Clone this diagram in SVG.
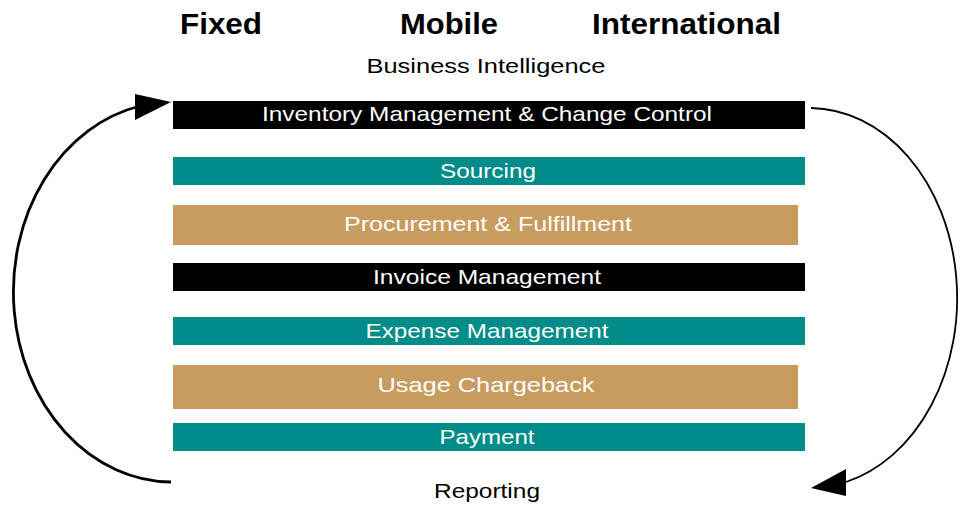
<svg xmlns="http://www.w3.org/2000/svg" width="961" height="505" viewBox="0 0 961 505">
<style>
.hdr{font-family:"Liberation Sans",Arial,sans-serif;font-weight:bold;font-size:30px;fill:#000}
.lbl{font-family:"Liberation Sans",Arial,sans-serif;font-size:21px;fill:#fff;text-anchor:middle}
.blk{fill:#000}
.teal{fill:#008C88}
.tan{fill:#C89B5F}
.plain{font-family:"Liberation Sans",Arial,sans-serif;font-size:21px;fill:#000;text-anchor:middle}
.arc{fill:none;stroke:#000}
</style>
<rect width="961" height="505" fill="#fff"/>
<g id="headers">
<text class="hdr" x="180" y="34" textLength="82" lengthAdjust="spacingAndGlyphs">Fixed</text>
<text class="hdr" x="400" y="34" textLength="98" lengthAdjust="spacingAndGlyphs">Mobile</text>
<text class="hdr" x="592" y="34" textLength="189" lengthAdjust="spacingAndGlyphs">International</text>
</g>
<g id="bi"><text class="plain" x="486" y="73" textLength="239" lengthAdjust="spacingAndGlyphs">Business  Intelligence</text></g>
<g id="inventory"><rect class="blk" x="173" y="101" width="632" height="28"/><text class="lbl" x="487" y="121" textLength="450" lengthAdjust="spacingAndGlyphs">Inventory Management &amp; Change Control</text></g>
<g id="sourcing"><rect class="teal" x="173" y="157" width="632" height="28"/><text class="lbl" x="488" y="178" textLength="96" lengthAdjust="spacingAndGlyphs">Sourcing</text></g>
<g id="procurement"><rect class="tan" x="173" y="205" width="625" height="40"/><text class="lbl" x="488" y="231" textLength="288" lengthAdjust="spacingAndGlyphs">Procurement  &amp; Fulfillment</text></g>
<g id="invoice"><rect class="blk" x="173" y="263" width="632" height="28"/><text class="lbl" x="487" y="284" textLength="228" lengthAdjust="spacingAndGlyphs">Invoice  Management</text></g>
<g id="expense"><rect class="teal" x="173" y="317" width="632" height="28"/><text class="lbl" x="487" y="338" textLength="243" lengthAdjust="spacingAndGlyphs">Expense Management</text></g>
<g id="usage"><rect class="tan" x="173" y="365" width="625" height="44"/><text class="lbl" x="486" y="392" textLength="217" lengthAdjust="spacingAndGlyphs">Usage  Chargeback</text></g>
<g id="payment"><rect class="teal" x="173" y="423" width="632" height="28"/><text class="lbl" x="487" y="444" textLength="95" lengthAdjust="spacingAndGlyphs">Payment</text></g>
<g id="reporting"><text class="plain" x="487" y="498" textLength="106" lengthAdjust="spacingAndGlyphs">Reporting</text></g>
<g id="connectors">
<path class="arc" stroke-width="2.8" d="M171,482 A159,190 0 0 1 140,106"/>
<polygon points="135,94 171,102 135,120" fill="#000"/>
<path class="arc" stroke-width="1.8" d="M811,108 A148,190 0 0 1 846,482"/>
<polygon points="846,469 811,488 846,496" fill="#000"/>
</g>
</svg>
